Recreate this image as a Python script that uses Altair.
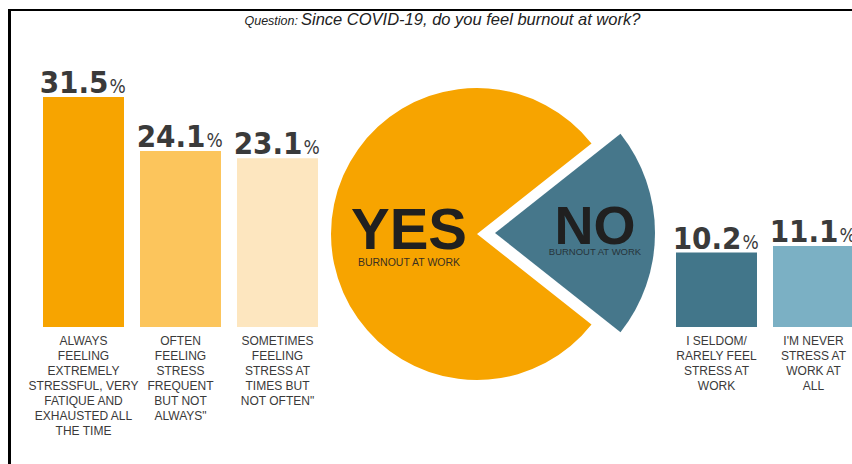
import math
import altair as alt
import pandas as pd

# ---- data ----
left_labels = [
    "ALWAYS\nFEELING\nEXTREMELY\nSTRESSFUL, VERY\nFATIQUE AND\nEXHAUSTED ALL\nTHE TIME",
    "OFTEN\nFEELING\nSTRESS\nFREQUENT\nBUT NOT\nALWAYS\"",
    "SOMETIMES\nFEELING\nSTRESS AT\nTIMES BUT\nNOT OFTEN\"",
]
left_values = [31.5, 24.1, 23.1]
left_colors = ["#F7A400", "#FCC55C", "#FDE6BF"]

right_labels = [
    "I SELDOM/\nRARELY FEEL\nSTRESS AT\nWORK",
    "I'M NEVER\nSTRESS AT\nWORK AT\nALL",
]
right_values = [10.2, 11.1]
right_colors = ["#42768A", "#7BB0C4"]

pie_answers = ["NO", "YES"]
pie_values = [sum(right_values), sum(left_values)]
pie_colors = ["#46778B", "#F7A400"]

title_prefix = "Question:"
title_text = "Since COVID-19, do you feel burnout at work?"

left_df = pd.DataFrame({"cat": left_labels, "value": left_values, "color": left_colors, "pct": ["%"] * 3})
right_df = pd.DataFrame({"cat": right_labels, "value": right_values, "color": right_colors, "pct": ["%"] * 2})
pie_df = pd.DataFrame({"answer": pie_answers, "value": pie_values, "ord": [0, 1]})

NUM_FONT = "DejaVu Sans Condensed, sans-serif"
TXT_FONT = "Liberation Sans, sans-serif"
TXT_COLOR = "#3a3a3a"

yscale = alt.Scale(range=[327, 97], zero=True, nice=False)


def bar_group(df, cats, rng):
    xs = alt.Scale(domain=cats, range=rng, paddingInner=0.165, paddingOuter=0)
    x = alt.X("cat:N", scale=xs, axis=None, sort=cats)
    y = alt.Y("value:Q", scale=yscale, axis=None)
    base = alt.Chart(df)
    bars = base.mark_bar(cornerRadius=0).encode(
        x=x, y=y, y2=alt.Y2(datum=0), color=alt.Color("color:N", scale=None)
    )
    num = base.mark_text(
        font=NUM_FONT, fontWeight="bold", fontSize=31, align="right",
        baseline="alphabetic", dx=25, dy=-4, color=TXT_COLOR
    ).encode(x=x, y=y, text=alt.Text("value:Q", format=".1f"))
    pct = base.mark_text(
        font=NUM_FONT, fontSize=19, align="left",
        baseline="alphabetic", dx=26, dy=-4, color=TXT_COLOR
    ).encode(x=x, y=y, text="pct:N")
    lab = base.mark_text(
        font=TXT_FONT, fontSize=12, align="center", baseline="top",
        lineBreak="\n", lineHeight=15, color=TXT_COLOR
    ).encode(x=x, y=alt.value(336), text="cat:N")
    return alt.layer(bars, num, pct, lab)


left = bar_group(left_df, left_labels, [43, 318])
right = bar_group(right_df, right_labels, [676, 854])

no_frac = pie_values[0] / sum(pie_values)
start = math.pi / 2 - no_frac * math.pi
theta_scale = alt.Scale(range=[start, start + 2 * math.pi])

pie_base = alt.Chart(pie_df)
theta = alt.Theta("value:Q", stack=True, scale=theta_scale)
order = alt.Order("ord:Q")
yes_arc = pie_base.mark_arc(outerRadius=146).encode(
    theta=theta, order=order, x=alt.value(477), y=alt.value(234),
    fill=alt.condition("datum.answer == 'YES'", alt.value(pie_colors[1]), alt.value("transparent")),
)
no_arc = pie_base.mark_arc(outerRadius=160).encode(
    theta=theta, order=order, x=alt.value(495), y=alt.value(233),
    fill=alt.condition("datum.answer == 'NO'", alt.value(pie_colors[0]), alt.value("transparent")),
)

yes_df = pie_df[pie_df.answer == "YES"]
no_df = pie_df[pie_df.answer == "NO"]
yes_txt = alt.Chart(yes_df).mark_text(
    font=TXT_FONT, fontWeight="bold", fontSize=58, align="center", baseline="alphabetic", color="#202020"
).encode(x=alt.value(409), y=alt.value(249), text="answer:N")
yes_sub = alt.Chart(yes_df).mark_text(
    font=TXT_FONT, fontSize=10.5, align="center", baseline="alphabetic", color="#3a3020"
).encode(x=alt.value(409), y=alt.value(266), text=alt.value("BURNOUT AT WORK"))
no_txt = alt.Chart(no_df).mark_text(
    font=TXT_FONT, fontWeight="bold", fontSize=54, align="center", baseline="alphabetic", color="#202020"
).encode(x=alt.value(595), y=alt.value(244), text="answer:N")
no_sub = alt.Chart(no_df).mark_text(
    font=TXT_FONT, fontSize=9.5, align="center", baseline="alphabetic", color="#26343a"
).encode(x=alt.value(595), y=alt.value(255), text=alt.value("BURNOUT AT WORK"))

one = pd.DataFrame({"t": [title_prefix], "u": [title_text]})
t1 = alt.Chart(one).mark_text(
    font=TXT_FONT, fontStyle="italic", fontSize=12.5, align="right", baseline="alphabetic", color="#222"
).encode(x=alt.value(298), y=alt.value(25), text="t:N")
t2 = alt.Chart(one).mark_text(
    font=TXT_FONT, fontStyle="italic", fontSize=16.5, align="left", baseline="alphabetic", color="#222"
).encode(x=alt.value(301), y=alt.value(25), text="u:N")

frame_v = alt.Chart(one).mark_rule(color="#000", strokeWidth=3).encode(
    x=alt.value(9.5), y=alt.value(9), y2=alt.value(464)
)
frame_h = alt.Chart(one).mark_rule(color="#000", strokeWidth=2).encode(
    x=alt.value(8), x2=alt.value(852), y=alt.value(10)
)

chart = alt.layer(
    frame_v, frame_h, t1, t2, yes_arc, no_arc, yes_txt, yes_sub, no_txt, no_sub, left, right
).resolve_scale(x="independent").properties(
    width=852, height=464, autosize=alt.AutoSizeParams(type="none"), padding=0,
    background="white"
).configure_view(stroke="transparent")

chart.save("out.html", embed_options={"renderer": "svg", "actions": False})
